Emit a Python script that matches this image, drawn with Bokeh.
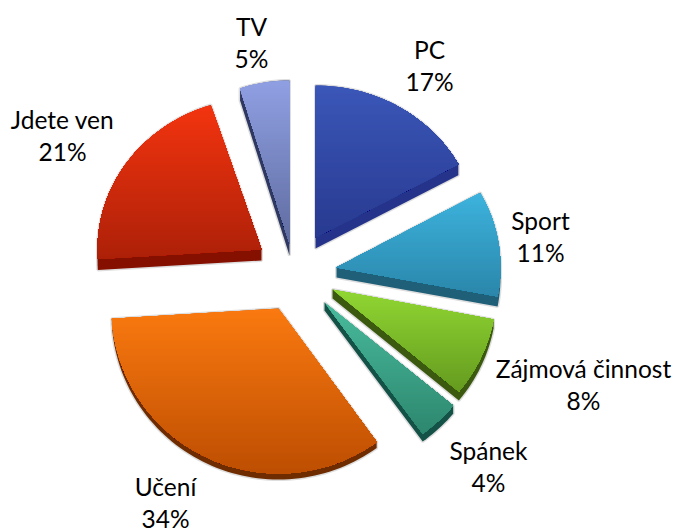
from bokeh.plotting import figure
from bokeh.models import Range1d, ColumnDataSource
from bokeh.core.properties import value
from bokeh.embed import file_html
from bokeh.resources import INLINE
import math

categories = ["PC", "Sport", "Zájmová činnost", "Spánek", "Učení", "Jdete ven", "TV"]
shares = [17, 11, 8, 4, 34, 21, 5]

# layout: exploded apex, radii, extrusion depth, label anchor (page px)
apex = [(315, 237), (336, 267), (332, 289), (324, 302), (278, 308), (261, 249), (289, 243)]
radii = [(163, 152), (164, 155), (164, 160), (167, 162), (167, 165), (164, 152), (160, 163)]
depth = [11, 10, 9, 8, 6, 11, 12]
label_at = [(429, 61), (540, 232), (583, 380), (488, 462), (165, 498), (62, 131), (251, 38)]
top_col = ["#3b57b8", "#3db3dd", "#90d733", "#49ba9c", "#fa7a10", "#f3340f", "#8f9fe2"]
bot_col = ["#283a90", "#2b86aa", "#659a1f", "#2d876f", "#bd4e02", "#ac2008", "#606ca0"]
side_col = ["#25348a", "#1f5f78", "#3b5a10", "#145248", "#6e2c00", "#861000", "#2e3860"]
label_font = "Lato"


def rgb(c):
    return [int(c[i:i + 2], 16) for i in (1, 3, 5)]


def mix(a, b, t):
    ca, cb = rgb(a), rgb(b)
    return "#%02x%02x%02x" % tuple(round(x + (y - x) * t) for x, y in zip(ca, cb))


def clip_below(poly, lo):
    out = []
    for i, a in enumerate(poly):
        b = poly[(i + 1) % len(poly)]
        if a[1] >= lo:
            out.append(a)
        if (a[1] >= lo) != (b[1] >= lo):
            t = (lo - a[1]) / (b[1] - a[1])
            out.append((a[0] + (b[0] - a[0]) * t, lo))
    return out


def hull(points):
    pts = sorted(set(points))
    def half(seq):
        h = []
        for q in seq:
            while len(h) > 1 and (h[-1][0] - h[-2][0]) * (q[1] - h[-2][1]) - (h[-1][1] - h[-2][1]) * (q[0] - h[-2][0]) <= 0:
                h.pop()
            h.append(q)
        return h[:-1]
    return half(pts) + half(pts[::-1])


W, H = 674, 529
p = figure(width=W, height=H, x_range=Range1d(0, W), y_range=Range1d(H, 0),
           output_backend="svg", toolbar_location=None, min_border=0,
           outline_line_color=None)
p.xaxis.visible = False
p.yaxis.visible = False
p.grid.visible = False

total = sum(shares)
cum = 0
body = dict(xs=[], ys=[], c=[])
face_src = dict(xs=[], ys=[], c=[])
for i, s in enumerate(shares):
    a0 = cum / total * 2 * math.pi
    cum += s
    a1 = cum / total * 2 * math.pi
    cx, cy = apex[i]
    rx, ry = radii[i]
    n = max(10, s * 2)
    arc = [(cx + rx * math.sin(a0 + (a1 - a0) * k / n),
            cy - ry * math.cos(a0 + (a1 - a0) * k / n)) for k in range(n + 1)]
    face = [(cx, cy)] + arc
    h = hull(face + [(x, y + depth[i]) for x, y in face])
    body["xs"].append([q[0] for q in h])
    body["ys"].append([q[1] for q in h])
    body["c"].append(side_col[i])
    ylo = min(q[1] for q in face)
    yhi = max(q[1] for q in face)
    y = ylo
    while y < yhi:
        seg = clip_below(face, y)
        if len(seg) >= 3:
            face_src["xs"].append([q[0] for q in seg])
            face_src["ys"].append([q[1] for q in seg])
            face_src["c"].append(mix(top_col[i], bot_col[i], (y - ylo) / (yhi - ylo)))
        y += 1

src = ColumnDataSource(body)
p.patches("xs", "ys", source=src, fill_color=None, line_color="#000000", line_alpha=0.13, line_width=3)
p.patches("xs", "ys", source=src, fill_color="c", line_color=None)
p.patches("xs", "ys", source=ColumnDataSource(face_src), fill_color="c", line_color=None)

lx, ly, lt = [], [], []
for i, c in enumerate(categories):
    lx += [label_at[i][0]] * 2
    ly += [label_at[i][1] - 12, label_at[i][1] + 20]
    lt += [c, f"{shares[i]}%"]
p.text(lx, ly, text=lt, text_font=value(label_font), text_font_size="24.5px",
       text_color="#000000", text_align="center", text_baseline="middle")

open("out.html", "w").write(file_html(p, INLINE))
